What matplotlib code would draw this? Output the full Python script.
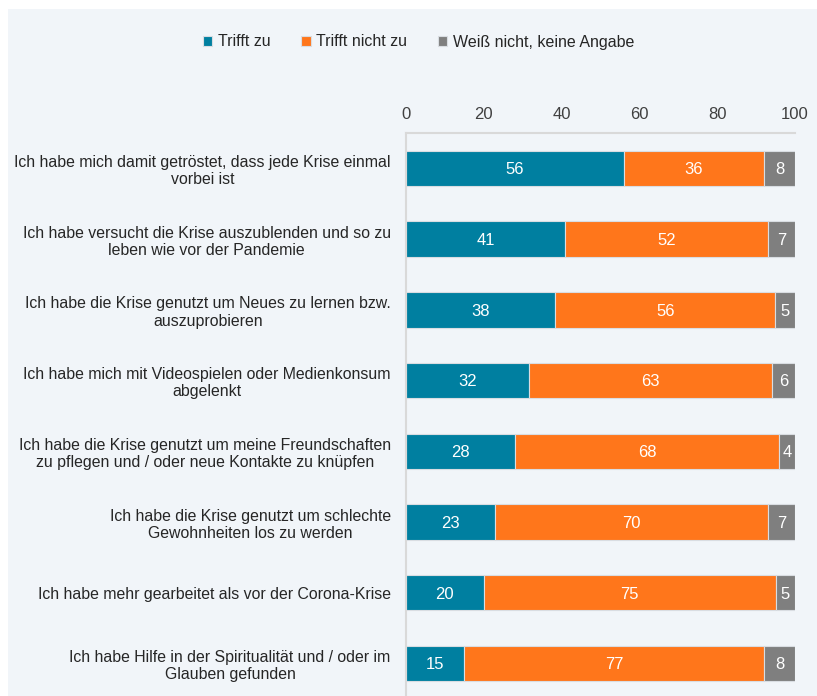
import matplotlib.pyplot as plt
from matplotlib.patches import Rectangle

plt.rcParams['font.family'] = ['Liberation Sans', 'DejaVu Sans']

labels = [
    "Ich habe mich damit getröstet, dass jede Krise einmal\nvorbei ist",
    "Ich habe versucht die Krise auszublenden und so zu\nleben wie vor der Pandemie",
    "Ich habe die Krise genutzt um Neues zu lernen bzw.\nauszuprobieren",
    "Ich habe mich mit Videospielen oder Medienkonsum\nabgelenkt",
    "Ich habe die Krise genutzt um meine Freundschaften\nzu pflegen und / oder neue Kontakte zu knüpfen",
    "Ich habe die Krise genutzt um schlechte\nGewohnheiten los zu werden",
    "Ich habe mehr gearbeitet als vor der Corona-Krise",
    "Ich habe Hilfe in der Spiritualität und / oder im\nGlauben gefunden",
]
trifft_zu = [56, 41, 38, 32, 28, 23, 20, 15]
trifft_nicht = [36, 52, 56, 63, 68, 70, 75, 77]
weiss_nicht = [8, 7, 5, 6, 4, 7, 5, 8]
series_names = ["Trifft zu", "Trifft nicht zu", "Weiß nicht, keine Angabe"]
colors = ["#007FA0", "#FF761B", "#7F7F7F"]

# rounded values don't always add to 100, the bars are scaled to full width
totals = [a + b + c for a, b, c in zip(trifft_zu, trifft_nicht, weiss_nicht)]

fig = plt.figure(figsize=(8.17, 6.96), dpi=100)
fig.patches.append(Rectangle((8 / 817, 0), 1, 1 - 9 / 696, transform=fig.transFigure,
                             facecolor="#F1F5F9", edgecolor="none", zorder=-10))
ax = fig.add_axes([406 / 817, 0, (795 - 406) / 817, 1 - 133 / 696])
ax.set_facecolor("none")

y = list(range(len(labels)))
left = [0] * len(labels)
for vals, name, c in zip([trifft_zu, trifft_nicht, weiss_nicht], series_names, colors):
    widths = [v / t * 100 for v, t in zip(vals, totals)]
    bars = ax.barh(y, widths, left=left, height=0.5, color=c, edgecolor="#D9DDE2",
                   linewidth=0.8, label=name)
    for b, v, w, l in zip(bars, vals, widths, left):
        ax.text(l + w / 2, b.get_y() + b.get_height() / 2 + 0.02, str(v), ha="center",
                va="center", color="white", fontsize=12)
    left = [a + b for a, b in zip(left, widths)]

ax.set_xlim(0, 100)
ax.set_ylim(7.46, -0.5)
ax.xaxis.tick_top()
ax.set_xticks([0, 20, 40, 60, 80, 100])
ax.tick_params(axis="x", length=0, pad=8, labelsize=12, labelcolor="#404040")
ax.set_yticks(y)
ax.set_yticklabels(labels, ha="right", multialignment="center", fontsize=11.4, color="#262626")
ax.tick_params(axis="y", length=0, pad=11)
for s in ["right", "bottom"]:
    ax.spines[s].set_visible(False)
for s in ["top", "left"]:
    ax.spines[s].set_color("#D9D9D9")
    ax.spines[s].set_linewidth(1.5)

fig.legend(loc="center", bbox_to_anchor=(418.5 / 817, 1 - 42 / 696), ncol=3, frameon=False,
           fontsize=11.5, handlelength=0.6, handleheight=0.6, columnspacing=1.9,
           handletextpad=0.35, labelcolor="#262626")

fig.savefig("out.png", dpi=100)
